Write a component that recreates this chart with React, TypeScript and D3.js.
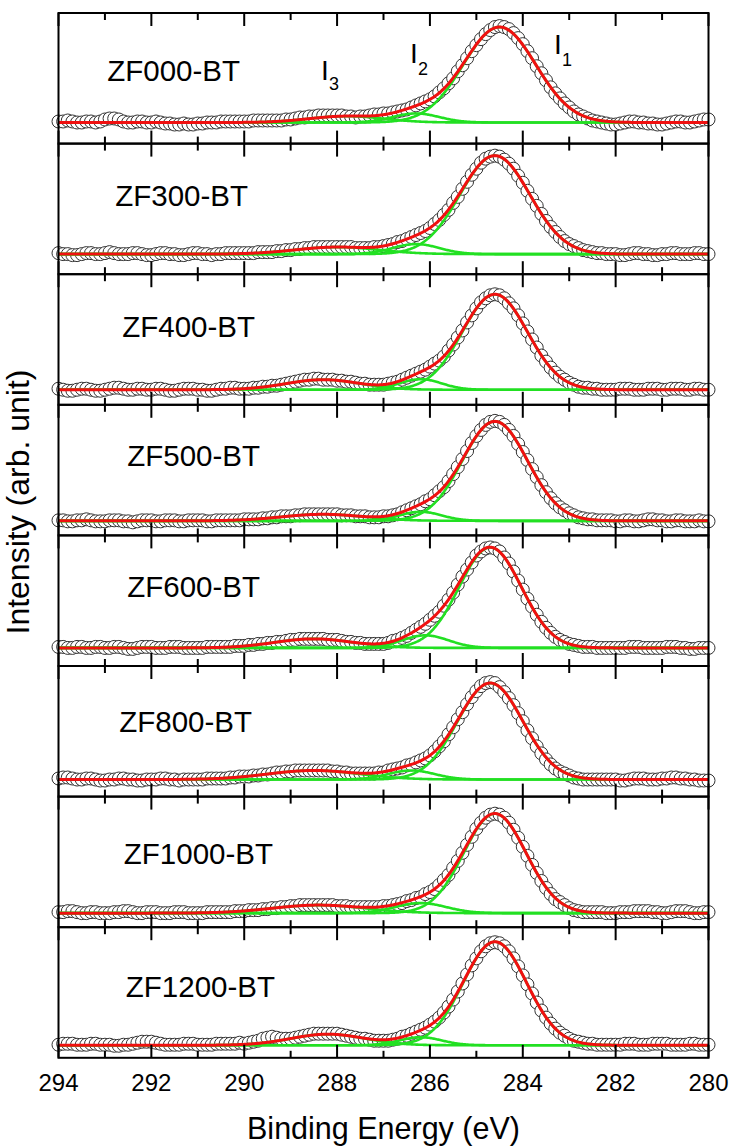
import React from "react";
import * as d3 from "d3";

// ---------- DATA ----------
const sampleNames = ["ZF000-BT", "ZF300-BT", "ZF400-BT", "ZF500-BT", "ZF600-BT", "ZF800-BT", "ZF1000-BT", "ZF1200-BT"];

// energy grid of the measured points (eV)
const E_START = 294;
const E_STEP = 0.1;

// fitted background level and peak components (I1, I2, I3) per sample
const baselines = [21, 20, 15, 14.5, 18, 17, 14, 12.5];
const i1Center = [284.5, 284.6, 284.6, 284.6, 284.7, 284.7, 284.6, 284.6];
const i1Height = [95, 98, 95, 99, 100, 96, 99, 103];
const i1Sigma = [0.78, 0.75, 0.7, 0.7, 0.67, 0.7, 0.67, 0.68];
const i2Center = [286.3, 286.3, 286.2, 286.2, 286.1, 286.4, 286.2, 286.2];
const i2Height = [9, 10, 10.5, 9, 12.5, 9, 10, 8];
const i2Sigma = [0.5, 0.5, 0.45, 0.45, 0.5, 0.5, 0.55, 0.45];
const i3Center = [287.8, 288.0, 288.3, 288.3, 288.5, 288.5, 288.4, 288.2];
const i3Height = [6.3, 7, 10, 6.5, 9, 9, 8, 11];
const i3Sigma = [0.8, 0.9, 0.8, 0.9, 0.85, 1.0, 1.0, 0.8];

// measured intensities (a.u.), 294.0 -> 280.0 eV in 0.1 eV steps
const zf000 = [
  22, 22, 23, 22, 21, 21, 22, 22, 21, 22,
  24, 25, 25, 24, 22, 21, 21, 22, 22, 21,
  21, 22, 21, 20, 20, 19, 19, 20, 19, 19,
  20, 20, 21, 21, 21, 22, 22, 22, 22, 22,
  22, 22, 23, 23, 23, 23, 23, 23, 23, 24,
  24, 25, 26, 26, 27, 27, 28, 28, 28, 28,
  28, 28, 27, 27, 26, 27, 27, 28, 29, 29,
  30, 30, 31, 32, 33, 34, 36, 38, 40, 42,
  44, 47, 51, 55, 60, 65, 72, 78, 85, 92,
  98, 104, 109, 113, 116, 117, 116, 114, 110, 105,
  99, 92, 85, 77, 70, 63, 56, 50, 45, 40,
  36, 32, 29, 27, 25, 23, 22, 21, 20, 19,
  19, 20, 21, 22, 22, 21, 21, 20, 20, 19,
  19, 20, 21, 22, 22, 21, 21, 22, 23, 24,
  24,
];
const zf300 = [
  21, 20, 20, 19, 19, 20, 21, 21, 20, 20,
  21, 22, 21, 20, 20, 20, 21, 21, 20, 19,
  19, 20, 21, 21, 20, 20, 19, 19, 20, 21,
  21, 20, 20, 19, 20, 20, 21, 21, 21, 21,
  21, 21, 21, 22, 22, 22, 22, 23, 23, 24,
  24, 25, 25, 26, 26, 27, 27, 27, 27, 27,
  27, 27, 27, 27, 26, 26, 26, 26, 27, 27,
  28, 29, 30, 32, 33, 35, 37, 39, 41, 43,
  46, 50, 54, 59, 64, 71, 77, 85, 92, 99,
  105, 111, 115, 117, 118, 117, 114, 110, 105, 98,
  91, 83, 75, 68, 60, 53, 47, 42, 37, 33,
  30, 28, 26, 24, 23, 22, 21, 21, 20, 20,
  20, 19, 19, 20, 21, 21, 20, 20, 19, 19,
  20, 20, 21, 21, 20, 20, 20, 21, 21, 20,
  20,
];
const zf400 = [
  16, 15, 14, 14, 15, 16, 16, 15, 14, 14,
  15, 16, 17, 17, 16, 15, 15, 16, 16, 15,
  15, 16, 16, 15, 14, 14, 15, 16, 16, 16,
  15, 15, 14, 14, 15, 16, 16, 17, 17, 16,
  16, 16, 17, 17, 18, 18, 19, 19, 20, 21,
  22, 23, 24, 25, 25, 26, 26, 25, 25, 25,
  24, 24, 23, 23, 22, 21, 21, 20, 20, 20,
  20, 21, 22, 23, 25, 27, 29, 31, 33, 35,
  38, 41, 44, 48, 54, 60, 67, 74, 82, 89,
  96, 102, 106, 109, 110, 109, 106, 101, 96, 89,
  81, 73, 65, 57, 49, 43, 37, 32, 28, 25,
  22, 20, 18, 17, 17, 16, 16, 15, 15, 15,
  15, 16, 16, 16, 15, 15, 15, 16, 16, 16,
  15, 15, 16, 16, 16, 15, 15, 16, 16, 15,
  15,
];
const zf500 = [
  15, 15, 14, 14, 15, 15, 16, 15, 14, 14,
  14, 15, 15, 15, 14, 14, 13, 14, 15, 15,
  15, 14, 14, 15, 15, 15, 14, 14, 15, 15,
  15, 15, 14, 14, 15, 15, 15, 15, 15, 15,
  16, 16, 16, 16, 17, 17, 18, 18, 19, 19,
  19, 20, 20, 21, 21, 21, 21, 21, 21, 21,
  21, 20, 20, 20, 19, 19, 19, 18, 18, 18,
  19, 19, 20, 21, 23, 25, 27, 29, 31, 34,
  36, 40, 44, 48, 54, 61, 68, 76, 84, 92,
  99, 105, 110, 113, 114, 113, 110, 105, 99, 91,
  83, 75, 66, 58, 50, 43, 37, 32, 28, 25,
  22, 20, 18, 17, 16, 16, 15, 15, 15, 15,
  14, 14, 15, 15, 14, 14, 15, 16, 16, 15,
  15, 14, 14, 15, 15, 14, 14, 14, 15, 14,
  14,
];
const zf600 = [
  19, 19, 18, 18, 19, 19, 18, 18, 19, 19,
  18, 18, 19, 19, 18, 17, 17, 18, 19, 19,
  19, 18, 18, 18, 19, 19, 19, 18, 18, 18,
  18, 18, 19, 19, 19, 19, 19, 19, 20, 20,
  20, 21, 21, 22, 22, 23, 23, 24, 24, 25,
  26, 26, 27, 27, 27, 27, 27, 27, 26, 26,
  26, 25, 24, 24, 23, 23, 22, 22, 22, 22,
  22, 23, 25, 26, 28, 30, 33, 36, 39, 42,
  46, 50, 54, 60, 66, 73, 81, 89, 96, 103,
  110, 114, 117, 118, 117, 114, 108, 102, 94, 85,
  76, 67, 59, 51, 44, 38, 33, 29, 26, 24,
  22, 21, 20, 19, 19, 19, 18, 18, 18, 18,
  18, 18, 18, 19, 19, 19, 18, 18, 18, 18,
  18, 19, 19, 19, 18, 18, 17, 17, 18, 18,
  18,
];
const zf800 = [
  18, 19, 19, 18, 17, 17, 18, 18, 17, 16,
  16, 17, 17, 18, 18, 17, 17, 16, 16, 17,
  17, 17, 18, 18, 17, 17, 16, 17, 17, 17,
  17, 17, 18, 18, 18, 18, 18, 19, 19, 20,
  20, 20, 21, 21, 22, 22, 23, 24, 24, 25,
  25, 26, 26, 26, 26, 26, 26, 26, 26, 25,
  25, 24, 24, 23, 23, 23, 23, 23, 23, 24,
  24, 26, 27, 28, 29, 31, 32, 34, 36, 38,
  41, 45, 50, 55, 62, 69, 77, 84, 92, 99,
  105, 110, 113, 114, 113, 109, 104, 98, 91, 83,
  75, 66, 58, 50, 43, 37, 32, 28, 25, 23,
  21, 19, 18, 17, 17, 17, 17, 17, 17, 17,
  17, 16, 16, 17, 18, 18, 18, 17, 17, 17,
  18, 18, 19, 19, 18, 18, 17, 17, 16, 16,
  16,
];
const zf1000 = [
  15, 15, 16, 16, 15, 14, 14, 15, 15, 14,
  14, 14, 15, 15, 16, 16, 15, 14, 14, 15,
  15, 15, 14, 14, 14, 15, 15, 15, 14, 14,
  14, 14, 15, 15, 15, 15, 15, 15, 16, 16,
  16, 17, 17, 17, 18, 18, 19, 19, 20, 20,
  21, 21, 22, 22, 22, 22, 22, 22, 22, 22,
  21, 21, 21, 20, 20, 20, 20, 20, 20, 20,
  21, 21, 22, 23, 24, 26, 27, 29, 30, 33,
  35, 38, 42, 47, 52, 59, 66, 74, 82, 90,
  98, 104, 109, 112, 113, 112, 109, 104, 97, 89,
  80, 71, 62, 54, 46, 39, 33, 28, 25, 22,
  19, 17, 16, 15, 15, 15, 15, 15, 14, 14,
  14, 15, 15, 15, 16, 16, 16, 16, 15, 15,
  14, 14, 15, 16, 16, 16, 15, 14, 14, 15,
  15,
];
const zf1200 = [
  13, 14, 14, 14, 13, 13, 13, 14, 14, 13,
  13, 13, 12, 12, 13, 13, 14, 15, 16, 16,
  16, 15, 14, 13, 13, 13, 13, 14, 14, 14,
  13, 13, 13, 13, 14, 14, 14, 14, 14, 15,
  14, 15, 16, 17, 19, 20, 21, 20, 19, 19,
  19, 20, 21, 22, 23, 24, 24, 24, 24, 24,
  24, 23, 22, 21, 20, 19, 19, 18, 17, 17,
  17, 17, 18, 19, 21, 22, 24, 26, 28, 30,
  33, 36, 40, 45, 51, 58, 66, 74, 83, 92,
  99, 106, 111, 114, 115, 114, 111, 106, 99, 91,
  82, 73, 64, 55, 47, 40, 34, 29, 25, 22,
  19, 17, 16, 15, 14, 14, 13, 13, 13, 13,
  13, 13, 14, 14, 14, 13, 13, 13, 14, 14,
  14, 14, 13, 13, 13, 13, 14, 14, 13, 13,
  13,
];
const spectra = [zf000, zf300, zf400, zf500, zf600, zf800, zf1000, zf1200];

const majorTicks = [294, 292, 290, 288, 286, 284, 282, 280];
const minorTicks = [293, 291, 289, 287, 285, 283, 281];

// ---------- LAYOUT ----------
const W = 732;
const H = 1146;
const PLOT_L = 58.5;
const PLOT_R = 708.5;
const PLOT_T = 13;
const PANEL_H = 130.6;
const Y_DOMAIN: [number, number] = [0, 130];
const labelRight = [240, 248, 255, 260, 260, 252, 273, 275];
const labelDrop = [68, 62, 63, 61, 62, 66, 67, 70];
const FONT = "'Liberation Sans', Arial, Helvetica, sans-serif";
const RED = "#f01010";
const GREEN = "#22e022";

function gauss(e: number, c: number, h: number, s: number) {
  return h * Math.exp(-((e - c) * (e - c)) / (2 * s * s));
}

export default function App() {
  const x = d3.scaleLinear().domain([294, 280]).range([PLOT_L, PLOT_R]);
  const fineE = d3.range(0, 701).map((i) => 294 - i * 0.02);
  const nPanels = sampleNames.length;
  const bottomAll = PLOT_T + nPanels * PANEL_H;

  const panels = sampleNames.map((name, p) => {
    const top = PLOT_T + p * PANEL_H;
    const bottom = top + PANEL_H;
    const y = d3.scaleLinear().domain(Y_DOMAIN).range([bottom, top]);
    const base = baselines[p];
    const c1 = (e: number) => gauss(e, i1Center[p], i1Height[p], i1Sigma[p]);
    const c2 = (e: number) => gauss(e, i2Center[p], i2Height[p], i2Sigma[p]);
    const c3 = (e: number) => gauss(e, i3Center[p], i3Height[p], i3Sigma[p]);
    const line = d3
      .line<number>()
      .x((e) => x(e))
      .curve(d3.curveLinear);
    const comp = (f: (e: number) => number) =>
      line.y((e) => y(base + f(e)))(fineE) || "";
    const total = line.y((e) => y(base + c1(e) + c2(e) + c3(e)))(fineE) || "";
    const greens = [comp(c3), comp(c2), comp(c1)];
    const pts = spectra[p].map((v, i) => ({ e: E_START - i * E_STEP, v }));

    return (
      <g key={name}>
        <g>
          {pts.map((d, i) => (
            <circle
              key={i}
              cx={x(d.e)}
              cy={y(d.v)}
              r={6.5}
              fill="#ffffff"
              stroke="#333333"
              strokeWidth={1}
            />
          ))}
        </g>
        {greens.map((dpath, k) => (
          <path key={k} d={dpath} fill="none" stroke={GREEN} strokeWidth={2.6} />
        ))}
        <path d={total} fill="none" stroke={RED} strokeWidth={3} />
        {/* frame */}
        <rect
          x={PLOT_L}
          y={top}
          width={PLOT_R - PLOT_L}
          height={PANEL_H}
          fill="none"
          stroke="#000"
          strokeWidth={2}
        />
        {majorTicks.map((t) => (
          <g key={"M" + t}>
            <line x1={x(t)} x2={x(t)} y1={top} y2={top + 13} stroke="#000" strokeWidth={2} />
            <line x1={x(t)} x2={x(t)} y1={bottom} y2={bottom - 13} stroke="#000" strokeWidth={2} />
          </g>
        ))}
        {minorTicks.map((t) => (
          <g key={"m" + t}>
            <line x1={x(t)} x2={x(t)} y1={top} y2={top + 7} stroke="#000" strokeWidth={2} />
            <line x1={x(t)} x2={x(t)} y1={bottom} y2={bottom - 7} stroke="#000" strokeWidth={2} />
          </g>
        ))}
        <text
          x={labelRight[p]}
          y={top + labelDrop[p]}
          textAnchor="end"
          fontFamily={FONT}
          fontSize={29.5}
          fill="#000"
        >
          {name}
        </text>
      </g>
    );
  });

  return (
    <svg
      width={W}
      height={H}
      viewBox={`0 0 ${W} ${H}`}
      style={{ position: "absolute", left: 0, top: 0, background: "#fff" }}
    >
      <rect x={0} y={0} width={W} height={H} fill="#fff" />
      {panels}
      {/* peak labels in the first panel */}
      <g fontFamily={FONT} fill="#000">
        <text x={321} y={80} fontSize={28}>I</text>
        <text x={329} y={90} fontSize={18}>3</text>
        <text x={410} y={63} fontSize={28}>I</text>
        <text x={418} y={75} fontSize={18}>2</text>
        <text x={554} y={54} fontSize={28}>I</text>
        <text x={562} y={66} fontSize={18}>1</text>
      </g>
      {majorTicks.map((t) => (
        <text
          key={"l" + t}
          x={x(t)}
          y={bottomAll + 33}
          textAnchor="middle"
          fontFamily={FONT}
          fontSize={24}
          fill="#000"
        >
          {t}
        </text>
      ))}
      <text
        x={(PLOT_L + PLOT_R) / 2}
        y={1139}
        textAnchor="middle"
        fontFamily={FONT}
        fontSize={30.5}
        fill="#000"
      >
        Binding Energy (eV)
      </text>
      <text
        transform={`translate(29, ${502}) rotate(-90)`}
        textAnchor="middle"
        fontFamily={FONT}
        fontSize={32}
        fill="#000"
      >
        Intensity (arb. unit)
      </text>
    </svg>
  );
}
